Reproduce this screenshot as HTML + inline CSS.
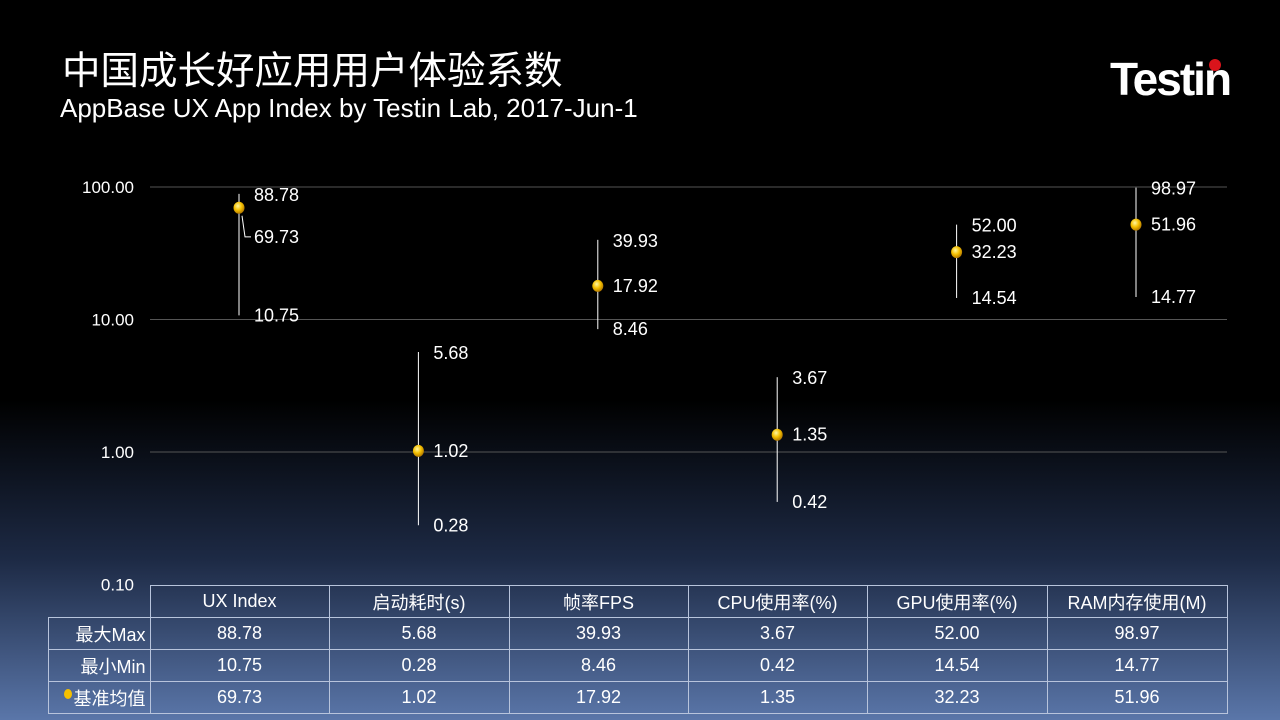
<!DOCTYPE html>
<html><head><meta charset="utf-8">
<style>
body{margin:0;width:1280px;height:720px;overflow:hidden;font-family:"Liberation Sans","Noto Sans CJK SC",sans-serif;}
#bg{position:absolute;left:0;top:0;width:1280px;height:720px;background:linear-gradient(to bottom,#000 0px,#000 400px,#1d2a45 560px,#5a76a9 720px);}
.t{position:absolute;color:#fff;white-space:nowrap}
table{position:absolute;left:48px;top:585px;border-collapse:collapse;color:#fff;font-size:18px;font-family:"Liberation Sans","Noto Sans CJK SC",sans-serif}
td{border:1px solid #b8c4dc;text-align:center;height:31px;padding:0}
</style></head><body>
<div id="bg"></div>
<div class="t" style="left:62px;top:40px;font-size:38.5px;">中国成长好应用用户体验系数</div>
<div class="t" style="left:60px;top:93px;font-size:26px;">AppBase UX App Index by Testin Lab, 2017-Jun-1</div>
<div class="t" style="left:1110px;top:52px;font-size:46px;font-weight:bold;letter-spacing:-2px">Testin</div>
<div style="position:absolute;left:1209px;top:59px;width:12px;height:12px;border-radius:50%;background:#d9141b"></div>
<svg id="chart" width="1280" height="720" style="position:absolute;left:0;top:0"></svg>
<table>
<tr><td style="border:none;border-bottom:1px solid #b8c4dc;width:101px;height:29px"></td><td style="width:178px">UX Index</td><td style="width:179px">启动耗时(s)</td><td style="width:178px">帧率FPS</td><td style="width:178px">CPU使用率(%)</td><td style="width:179px">GPU使用率(%)</td><td style="width:179px">RAM内存使用(M)</td></tr>
<tr><td style="text-align:right;padding-right:4px">最大Max</td><td>88.78</td><td>5.68</td><td>39.93</td><td>3.67</td><td>52.00</td><td>98.97</td></tr>
<tr><td style="text-align:right;padding-right:4px">最小Min</td><td>10.75</td><td>0.28</td><td>8.46</td><td>0.42</td><td>14.54</td><td>14.77</td></tr>
<tr><td style="text-align:right;padding-right:4px"><span style="display:inline-block;width:8px;height:10px;border-radius:50%;background:#f5c000;vertical-align:6px;margin-right:2px"></span>基准均值</td><td>69.73</td><td>1.02</td><td>17.92</td><td>1.35</td><td>32.23</td><td>51.96</td></tr>
</table>
<script>
const categories=["UX Index","启动耗时(s)","帧率FPS","CPU使用率(%)","GPU使用率(%)","RAM内存使用(M)"];
const maxVals=[88.78,5.68,39.93,3.67,52.00,98.97];
const minVals=[10.75,0.28,8.46,0.42,14.54,14.77];
const meanVals=[69.73,1.02,17.92,1.35,32.23,51.96];
const yTicks=[100,10,1,0.1];
const yTickLabels=["100.00","10.00","1.00","0.10"];
const NS="http://www.w3.org/2000/svg";
const svg=document.getElementById('chart');
const y=v=>452-132.5*Math.log10(v);
const x=i=>239+i*179.4;
function mk(t,a){const e=document.createElementNS(NS,t);for(const k in a)e.setAttribute(k,a[k]);svg.appendChild(e);return e;}
const defs=mk('defs',{});
defs.innerHTML='<radialGradient id="ball" cx="0.4" cy="0.35" r="0.7"><stop offset="0" stop-color="#fff6a0"/><stop offset="0.5" stop-color="#f5c000"/><stop offset="1" stop-color="#a86e00"/></radialGradient>';
yTicks.forEach((v,i)=>{
 if(v>=1){const g=mk('line',{x1:150,x2:1227,y1:y(v),y2:y(v),stroke:'#555',"stroke-width":1});
 }
 const t=mk('text',{x:134,y:y(v)+6,fill:'#fff','font-size':17,'text-anchor':'end','font-family':'Liberation Sans'});
 t.textContent=yTickLabels[i];
 
});
function lab(s,xx,yy){const t=mk('text',{x:xx,y:yy+6,fill:'#fff','font-size':18,'font-family':'Liberation Sans'});t.textContent=s;
}
categories.forEach((c,i)=>{
 const l=mk('line',{x1:x(i),x2:x(i),y1:y(maxVals[i]),y2:y(minVals[i]),stroke:'#fff','stroke-width':1});
 
 const ym=y(meanVals[i]),yM=y(maxVals[i]),yn=y(minVals[i]);
 lab(maxVals[i].toFixed(2),x(i)+15,yM+1);
 let my=ym; if(my-yM<18){my=yM+43; mk('polyline',{points:`${x(i)+3},${ym+8} ${x(i)+6},${my} ${x(i)+12},${my}`,fill:'none',stroke:'#fff'});}
 lab(meanVals[i].toFixed(2),x(i)+15,my);
 lab(minVals[i].toFixed(2),x(i)+15,yn);
 const b=mk('ellipse',{cx:x(i),cy:ym,rx:5.5,ry:6,fill:'url(#ball)'});
 
});
</script>
</body></html>
